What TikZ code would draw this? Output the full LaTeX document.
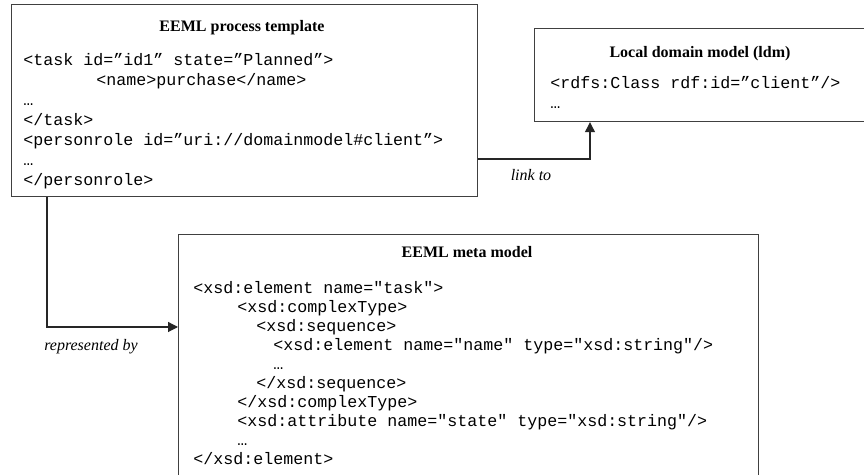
\documentclass[tikz,border=0pt]{standalone}
\usepackage{fontspec}
\setmainfont{Liberation Serif}
\setmonofont{Liberation Mono}
\usetikzlibrary{arrows.meta,calc}
\begin{document}
\begin{tikzpicture}[x=0.5pt,y=-0.5pt,
  box/.style={draw=black!75, line width=0.6pt, rectangle, inner sep=0pt, anchor=north west},
  code/.style={font=\ttfamily\fontsize{8.33}{10}\selectfont, anchor=base west, inner sep=0pt},
  ttl/.style={font=\bfseries\fontsize{8}{9}\selectfont, anchor=base, inner sep=0pt},
  lbl/.style={font=\itshape\fontsize{8}{9}\selectfont, anchor=base, inner sep=0pt},
  conn/.style={draw=black!85, line width=0.6pt},
  arr/.style={conn, -{Triangle[length=5pt,width=5pt]}}]
\useasboundingbox (0,0) rectangle (864,475);
\clip (0,0) rectangle (864,475);
\fill[white] (0,0) rectangle (864,475);
% boxes
\node[box, minimum width=233pt, minimum height=96pt] (tmpl) at (11,4) {};
\node[box, minimum width=168pt, minimum height=46.5pt] (ldm) at (534,28) {};
\node[box, minimum width=290pt, minimum height=133pt] (meta) at (178,234) {};
% process template
\node[ttl] (t1) at (242,32) {EEML process template};
\node[code] (p1) at (23,66) {<task id=”id1” state=”Planned”>};
\node[code] (p2) at (96,86) {<name>purchase</name>};
\node[code] (p3) at (23,106) {…};
\node[code] (p4) at (23,126) {</task>};
\node[code] (p5) at (23,146) {<personrole id=”uri://domainmodel\#client”>};
\node[code] (p6) at (23,166) {…};
\node[code] (p7) at (23,186) {</personrole>};
% local domain model
\node[ttl] (t2) at (700,58) {Local domain model (ldm)};
\node[code] (l1) at (550,89) {<rdfs:Class rdf:id=”client”/>};
\node[code] (l2) at (550,109) {…};
% meta model
\node[ttl] (t3) at (467,258) {EEML meta model};
\node[code] (m1) at (193,294) {<xsd:element name="task">};
\node[code] (m2) at (237,312.9) {<xsd:complexType>};
\node[code] (m3) at (256,331.8) {<xsd:sequence>};
\node[code] (m4) at (273,350.7) {<xsd:element name="name" type="xsd:string"/>};
\node[code] (m5) at (273,369.6) {…};
\node[code] (m6) at (256,388.5) {</xsd:sequence>};
\node[code] (m7) at (237,407.4) {</xsd:complexType>};
\node[code] (m8) at (237,426.3) {<xsd:attribute name="state" type="xsd:string"/>};
\node[code] (m9) at (237,445.2) {…};
\node[code] (m10) at (193,464.1) {</xsd:element>};
% connectors
\draw[arr] ($(tmpl.south west)+(36,0)$) |- ($(meta.north west)+(0,93)$);
\draw[arr] ($(tmpl.north east)+(0,155)$) -| ($(ldm.south west)+(56,0)$);
\node[lbl] (rep) at (91,351) {represented by};
\node[lbl] (link) at (531,181) {link to};
\end{tikzpicture}
\end{document}
